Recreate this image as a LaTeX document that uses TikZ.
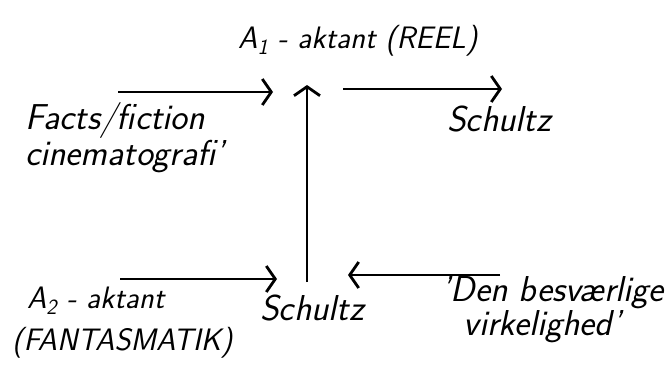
\documentclass[tikz,border=0pt]{standalone}
\usepackage{tikz}
\usetikzlibrary{arrows.meta,positioning}

\begin{document}
\begin{tikzpicture}[x=1pt, y=-1pt,
    hand/.style args={#1/#2}{inner sep=0pt, align=left, font=\sffamily\itshape\fontsize{#1}{#2}\selectfont},
    arrow/.style={-{Straight Barb[length=9pt, width=26pt, line width=2.8pt]}, line width=1.7pt}
  ]
    \useasboundingbox (0,0) rectangle (671,365);
    % labels
    \node[hand=31/36, anchor=base west] (reel) at (238,48) {A\textsubscript{1} - aktant (REEL)};
    \node[hand=36/33, anchor=base west] (facts) at (25,165) {Facts/fiction\\cinematografi'};
    \node[hand=36/36, anchor=base west] (schultzA) at (447,131) {Schultz};
    \node[hand=31/42, anchor=base west] (fantas) at (12,350) {\ \,A\textsubscript{2} - aktant\\(FANTASMATIK)};
    \node[hand=36/36, anchor=base west] (schultzB) at (260,320) {Schultz};
    \node[hand=36/30, anchor=base west] (virk) at (441,335) {'Den besværlige\\\ \ virkelighed'};
    % arrow ends
    \coordinate (top) at (307,85);
    \coordinate (bot) at (307,282);
    \coordinate (inA) at (118,92);
    \coordinate (hubA) at (273,92);
    \coordinate (outA) at (343,89);
    \coordinate (outB) at (502,89);
    \coordinate (inB) at (120,279);
    \coordinate (hubB) at (277,279);
    \coordinate (inC) at (500,275);
    \coordinate (hubC) at (348,275);
    % arrows
    \draw[arrow] (inA) -- (hubA);
    \draw[arrow] (outA) -- (outB);
    \draw[arrow] (bot) -- (top);
    \draw[arrow] (inB) -- (hubB);
    \draw[arrow] (inC) -- (hubC);
\end{tikzpicture}
\end{document}
